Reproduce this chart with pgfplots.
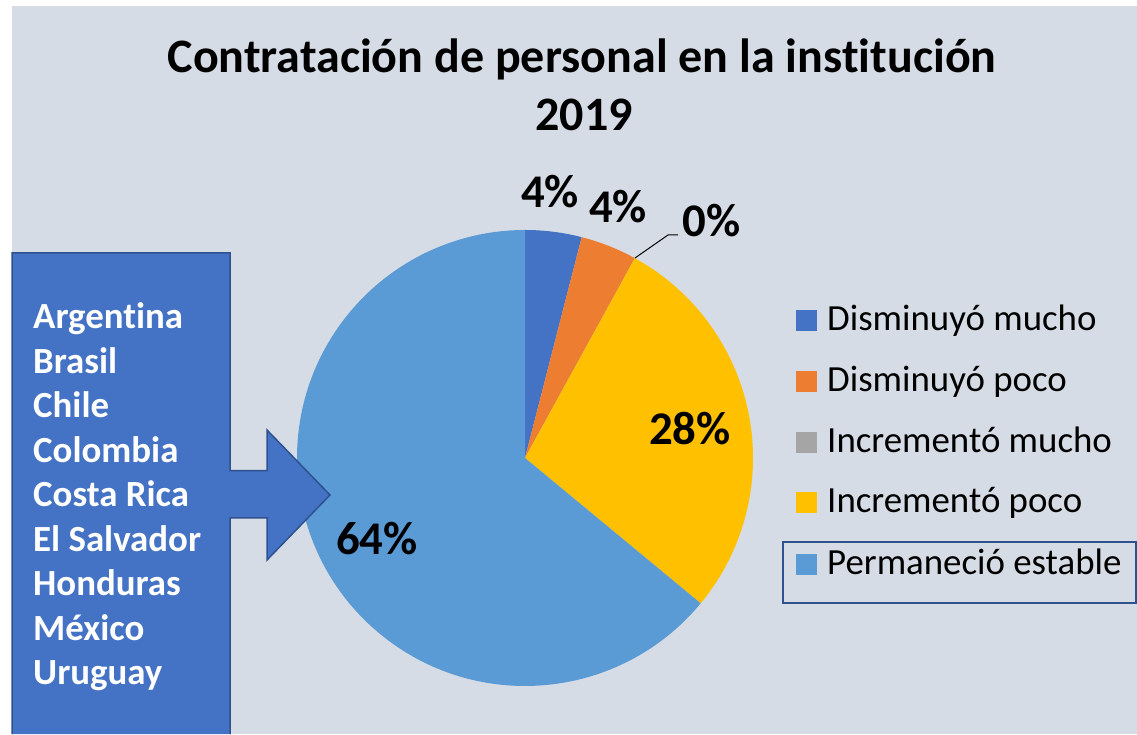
\documentclass[border=0pt]{standalone}
\usepackage{pgfplots}
\usepackage{pgfplotstable}
\pgfplotsset{compat=1.18}
\usepackage{fontspec}
\setmainfont{Carlito}[Ligatures={NoCommon}]
\definecolor{bgc}{HTML}{D6DCE5}
\definecolor{c1}{HTML}{4472C4}
\definecolor{c2}{HTML}{ED7D31}
\definecolor{c3}{HTML}{A5A5A5}
\definecolor{c4}{HTML}{FFC000}
\definecolor{c5}{HTML}{5B9BD5}
\definecolor{edge}{HTML}{2F528F}

\pgfplotstableread[col sep=comma]{
label,value,col
Disminuyó mucho,4,c1
Disminuyó poco,4,c2
Incrementó mucho,0,c3
Incrementó poco,28,c4
Permaneció estable,64,c5
}\piedata

\newcommand{\ttl}{\fontsize{48.2}{58}\selectfont\bfseries}
\newcommand{\lbl}{\fontsize{47}{56}\selectfont\bfseries}
\newcommand{\leg}{\fontsize{37}{44}\selectfont}
\newcommand{\cty}{\fontsize{37}{45}\selectfont\bfseries}

\begin{document}
\begin{tikzpicture}
\begin{axis}[
  width=1137bp, height=734bp, scale only axis,
  xmin=0, xmax=1137, ymin=0, ymax=734,
  hide axis, clip=false,
]
% background
\fill[white] (axis cs:0,0) rectangle (axis cs:1137,734);
\fill[bgc] (axis cs:12,0) rectangle (axis cs:1137,728);

% pie slices from data
\def\cum{0}
\pgfplotsforeachungrouped \i in {0,...,4}{%
  \pgfplotstablegetelem{\i}{value}\of\piedata \let\val\pgfplotsretval
  \pgfplotstablegetelem{\i}{col}\of\piedata \let\col\pgfplotsretval
  \pgfmathsetmacro\sa{90-3.6*\cum}%
  \pgfmathsetmacro\ea{90-3.6*(\cum+\val)}%
  \edef\doslice{\noexpand\fill[\col] (axis cs:525,276) -- ++(\sa:228bp) arc[start angle=\sa, end angle=\ea, radius=228bp] -- cycle;}%
  \doslice
  \pgfmathsetmacro\cum{\cum+\val}%
}

% callout
\fill[c1] (axis cs:12,0) -- (axis cs:12,481) -- (axis cs:230,481) -- (axis cs:230,263.3)
  -- (axis cs:267,263.3) -- (axis cs:267,304) -- (axis cs:330,239) -- (axis cs:267,174)
  -- (axis cs:267,216) -- (axis cs:230,216) -- (axis cs:230,0) -- cycle;
\draw[edge, line width=1.5bp, line join=miter] (axis cs:12,0) -- (axis cs:12,481) -- (axis cs:230,481) -- (axis cs:230,263.3)
  -- (axis cs:267,263.3) -- (axis cs:267,304) -- (axis cs:330,239) -- (axis cs:267,174)
  -- (axis cs:267,216) -- (axis cs:230,216) -- (axis cs:230,0);
\node[anchor=base west, white, inner sep=0] at (axis cs:33,405) {\cty Argentina};
\node[anchor=base west, white, inner sep=0] at (axis cs:33,360.5) {\cty Brasil};
\node[anchor=base west, white, inner sep=0] at (axis cs:33,316) {\cty Chile};
\node[anchor=base west, white, inner sep=0] at (axis cs:33,271.5) {\cty Colombia};
\node[anchor=base west, white, inner sep=0] at (axis cs:33,227) {\cty Costa Rica};
\node[anchor=base west, white, inner sep=0] at (axis cs:33,182.5) {\cty El Salvador};
\node[anchor=base west, white, inner sep=0] at (axis cs:33,138) {\cty Honduras};
\node[anchor=base west, white, inner sep=0] at (axis cs:33,93.5) {\cty México};
\node[anchor=base west, white, inner sep=0] at (axis cs:33,49) {\cty Uruguay};

% data labels
\node[anchor=base, inner sep=0] at (axis cs:550,526) {\lbl 4\%};
\node[anchor=base, inner sep=0] at (axis cs:618,511) {\lbl 4\%};
\node[anchor=base, inner sep=0] at (axis cs:711.5,497) {\lbl 0\%};
\node[anchor=base, inner sep=0] at (axis cs:690,289) {\lbl 28\%};
\node[anchor=base, inner sep=0] at (axis cs:377,179) {\lbl 64\%};
\draw[black, line width=1bp] (axis cs:635,476) -- (axis cs:668,499) -- (axis cs:678,499);

% legend
\pgfplotsforeachungrouped \i/\yb in {0/403,1/342,2/281,3/221,4/159}{%
  \pgfplotstablegetelem{\i}{label}\of\piedata \let\lab\pgfplotsretval
  \pgfplotstablegetelem{\i}{col}\of\piedata \let\col\pgfplotsretval
  \edef\doleg{\noexpand\fill[\col] (axis cs:796,\yb) rectangle (axis cs:817,\yb+21);
    \noexpand\node[anchor=base west, inner sep=0] at (axis cs:827,\yb) {\noexpand\leg \lab};}%
  \doleg
}
\draw[edge, line width=1.5bp] (axis cs:783,192) rectangle (axis cs:1136,131);

% title
\node[anchor=base, inner sep=0] at (axis cs:582,661) {\ttl Contratación de personal en la institución};
\node[anchor=base, inner sep=0] at (axis cs:584,603) {\ttl 2019};
\end{axis}
\end{tikzpicture}
\end{document}
